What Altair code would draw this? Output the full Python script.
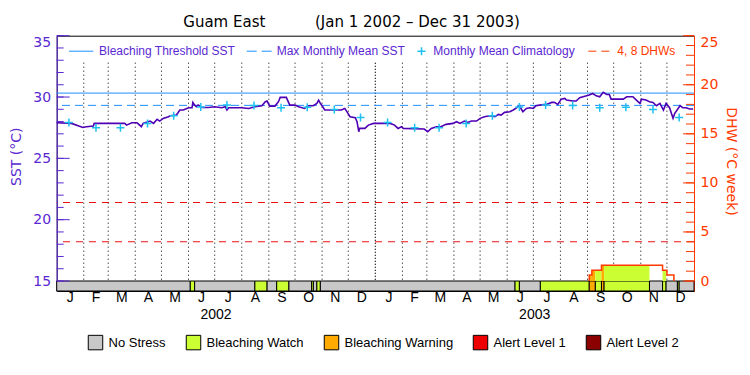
import altair as alt
import pandas as pd

# ---------------- data ----------------
START = pd.Timestamp("2002-01-01")
END = pd.Timestamp("2004-01-01")
TOTAL = float((END - START).days)


def dnum(s):
    return float((pd.Timestamp(s) - START).days)


title_left = "Guam East"
title_right = "(Jan 1 2002 \u2013 Dec 31 2003)"

sst_dates = [
    "2002-01-01", "2002-01-18", "2002-01-31", "2002-02-04", "2002-02-12", "2002-02-13",
    "2002-03-20", "2002-03-22", "2002-03-28", "2002-04-03", "2002-04-08", "2002-04-10",
    "2002-04-18", "2002-04-22", "2002-04-26", "2002-04-29", "2002-05-03", "2002-05-09",
    "2002-05-11", "2002-05-18", "2002-05-20", "2002-05-22", "2002-05-26", "2002-06-01",
    "2002-06-05", "2002-06-06", "2002-06-08", "2002-06-10", "2002-06-12", "2002-06-16",
    "2002-06-24", "2002-07-01", "2002-07-09", "2002-07-13", "2002-07-15", "2002-07-17",
    "2002-08-01", "2002-08-09", "2002-08-16", "2002-08-24", "2002-08-28", "2002-08-30",
    "2002-09-02", "2002-09-08", "2002-09-12", "2002-09-14", "2002-09-21", "2002-09-25",
    "2002-10-01", "2002-10-05", "2002-10-12", "2002-10-16", "2002-10-22", "2002-10-26",
    "2002-10-28", "2002-10-30", "2002-11-01", "2002-11-04", "2002-11-23", "2002-11-27",
    "2002-11-29", "2002-12-03", "2002-12-09", "2002-12-11", "2002-12-13", "2002-12-14",
    "2002-12-20", "2002-12-24", "2002-12-30",
    "2003-01-18", "2003-01-23", "2003-01-27", "2003-01-31", "2003-02-02", "2003-02-26",
    "2003-03-02", "2003-03-06", "2003-03-12", "2003-03-17", "2003-03-23", "2003-03-31",
    "2003-04-04", "2003-04-08", "2003-04-13", "2003-04-17", "2003-04-21", "2003-04-27",
    "2003-05-01", "2003-05-06", "2003-05-12", "2003-05-18", "2003-05-22", "2003-05-25",
    "2003-05-29", "2003-06-04", "2003-06-08", "2003-06-12", "2003-06-15", "2003-06-19",
    "2003-06-23", "2003-06-27", "2003-07-01", "2003-07-04", "2003-07-08", "2003-07-16",
    "2003-07-22", "2003-07-25", "2003-07-29", "2003-08-02", "2003-08-06", "2003-08-08",
    "2003-08-15", "2003-08-19", "2003-08-23", "2003-08-31", "2003-09-03", "2003-09-07",
    "2003-09-11", "2003-09-15", "2003-09-19", "2003-09-23", "2003-09-26", "2003-09-28",
    "2003-10-12", "2003-10-16", "2003-10-23", "2003-10-27", "2003-10-31", "2003-11-02",
    "2003-11-07", "2003-11-11", "2003-11-15", "2003-11-19", "2003-11-23", "2003-11-27",
    "2003-11-30", "2003-12-04", "2003-12-08", "2003-12-10", "2003-12-16", "2003-12-19",
    "2003-12-23", "2003-12-27", "2003-12-31",
]
sst_values = [
    27.90, 27.85, 27.52, 27.58, 27.63, 27.85,
    27.85, 27.71, 27.90, 27.90, 27.58, 27.85,
    28.04, 27.85, 28.18, 28.04, 28.26, 28.39,
    28.47, 28.53, 28.72, 28.94, 28.94, 29.13,
    29.13, 29.56, 29.34, 29.21, 29.34, 29.15,
    29.15, 29.21, 29.13, 29.21, 28.94, 29.13,
    29.13, 29.07, 29.21, 29.29, 29.62, 29.67,
    29.26, 29.26, 29.62, 29.97, 29.97, 29.34,
    29.34, 29.21, 29.07, 29.29, 29.29, 29.48,
    29.75, 29.48, 29.29, 28.94, 28.94, 29.07,
    28.85, 28.39, 28.31, 27.99, 27.17, 27.44,
    27.44, 27.71, 27.85,
    27.85, 27.71, 27.44, 27.58, 27.44, 27.39,
    27.17, 27.44, 27.58, 27.58, 27.77, 27.85,
    27.99, 27.85, 28.04, 27.93, 28.04, 28.04,
    28.26, 28.39, 28.47, 28.39, 28.58, 28.53,
    28.75, 28.80, 28.94, 29.13, 29.29, 28.80,
    29.07, 29.13, 29.07, 29.29, 29.34, 29.40,
    29.56, 29.56, 29.40, 29.83, 29.89, 29.75,
    29.67, 29.67, 29.94, 30.10, 30.16, 30.29,
    30.10, 30.02, 30.38, 30.21, 30.21, 29.83,
    29.83, 30.02, 30.02, 29.75, 29.48, 29.83,
    29.75, 29.62, 29.56, 29.29, 29.48, 28.94,
    29.48, 29.13, 28.26, 28.67, 29.29, 29.13,
    29.13, 29.02, 29.02,
]

clim_years = ["2002", "2003"]
clim_months = ["01", "02", "03", "04", "05", "06", "07", "08", "09", "10", "11", "12"]
clim_values = [27.93, 27.50, 27.50, 27.85, 28.47, 29.18, 29.34, 29.30, 29.13, 29.17, 28.98, 28.33]

MMM = 29.32
THRESHOLD = 30.32
DHW_REFS = [4, 8]

dhw_dates = ["2003-09-03", "2003-09-03", "2003-09-06", "2003-09-17", "2003-11-26", "2003-12-01", "2003-12-09"]
dhw_values = [0.0, 0.6, 1.1, 1.6, 1.1, 0.6, 0.0]

LEVELS = ["No Stress", "Bleaching Watch", "Bleaching Warning", "Alert Level 1", "Alert Level 2"]
LEVEL_COLORS = ["#C8C8C8", "#CCFF33", "#FFAA00", "#EE0000", "#8B0000"]

stress_start = ["2002-06-03", "2002-08-16", "2002-09-10", "2002-10-20", "2002-10-26",
                "2003-06-10", "2003-07-09", "2003-09-03", "2003-09-10", "2003-09-17",
                "2003-09-20", "2003-11-26", "2003-12-13"]
stress_end = ["2002-06-08", "2002-08-30", "2002-09-24", "2002-10-22", "2002-10-30",
              "2003-06-15", "2003-09-03", "2003-09-10", "2003-09-17", "2003-09-20",
              "2003-11-11", "2003-11-30", "2003-12-15"]
stress_level = ["Bleaching Watch", "Bleaching Watch", "Bleaching Watch", "Bleaching Watch", "Bleaching Watch",
                "Bleaching Watch", "Bleaching Watch", "Bleaching Warning", "Bleaching Watch", "Bleaching Warning",
                "Bleaching Watch", "Bleaching Watch", "Bleaching Watch"]

month_letters = ["J", "F", "M", "A", "M", "J", "J", "A", "S", "O", "N", "D"]
year_labels = ["2002", "2003"]

# ---------------- styles / layout ----------------
PURPLE = "#5A28D2"
LINE_PURPLE = "#5000B4"
ORANGE_RED = "#FF3A00"
BLUE = "#1E90FF"
CYAN = "#1EC0F0"
RED = "#EE1111"
FONT = "DejaVu Sans"
LFONT = "Liberation Sans"

W, H = 637.3, 255.3
BAR_PX = 10.0
SST_PX = (H - BAR_PX) / 20.0
DHW_PX = (H - BAR_PX) / 25.0
SST_MIN = 15 - BAR_PX / SST_PX
DHW_MIN = 0 - BAR_PX / DHW_PX
GRID_TOP = 32.8
PLUS = "M -1 0 L 1 0 M 0 -1 L 0 1"

# ---------------- frames ----------------
sst_df = pd.DataFrame({"day": [dnum(d) for d in sst_dates], "sst": sst_values})
clim_df = pd.DataFrame({
    "day": [dnum(f"{y}-{m}-15") for y in clim_years for m in clim_months],
    "sst": clim_values * len(clim_years),
})

events = sorted(zip([dnum(d) for d in stress_start], [dnum(d) for d in stress_end], stress_level))
bar_rows = []
cur = 0.0
for s0, s1, lv in events:
    if s0 > cur:
        bar_rows.append({"start": cur, "end": s0, "level": "No Stress"})
    bar_rows.append({"start": s0, "end": s1, "level": lv})
    cur = s1
if cur < TOTAL:
    bar_rows.append({"start": cur, "end": TOTAL, "level": "No Stress"})
bar_df = pd.DataFrame(bar_rows)
bar_df["top"] = 15.0
bar_df["bottom"] = SST_MIN

dhw_days = [dnum(d) for d in dhw_dates]
dhw_df = pd.DataFrame({"day": dhw_days, "dhw": dhw_values, "i": list(range(len(dhw_days)))})
steps = [(dhw_days[i], dhw_days[i + 1], dhw_values[i]) for i in range(len(dhw_days) - 1)
         if dhw_days[i + 1] > dhw_days[i] and dhw_values[i] > 0]
fill_rows = []
for s0, s1, lv in events:
    for a, b, v in steps:
        lo, hi = max(s0, a), min(s1, b)
        if hi > lo:
            fill_rows.append({"start": lo, "end": hi, "zero": 0.0, "dhw": v, "level": lv})
fill_df = pd.DataFrame(fill_rows)

month_starts = pd.date_range(START, END, freq="MS")
grid_rows = []
for ms in month_starts[1:-1]:
    grid_rows.append({"day": dnum(ms), "top": GRID_TOP, "bottom": 15.0,
                      "kind": "year" if ms.month == 1 else "month"})
grid_df = pd.DataFrame(grid_rows)

mlab_rows = []
for i in range(len(month_starts) - 1):
    a, b = dnum(month_starts[i]), dnum(month_starts[i + 1])
    mlab_rows.append({"mid": (a + b) / 2, "lab": month_letters[month_starts[i].month - 1]})
mlab_df = pd.DataFrame(mlab_rows)
ylab_df = pd.DataFrame({"mid": [(dnum(f"{y}-01-01") + dnum(f"{int(y)+1}-01-01")) / 2 for y in year_labels],
                        "lab": year_labels})

one = pd.DataFrame({"k": [0]})

# ---------------- scales / axes ----------------
xs = alt.Scale(domain=[0, TOTAL], nice=False, zero=False)
sst_scale = alt.Scale(domain=[SST_MIN, 35], nice=False, zero=False)
dhw_scale = alt.Scale(domain=[DHW_MIN, 25], nice=False, zero=False)
color_scale = alt.Scale(domain=LEVELS, range=LEVEL_COLORS)

sst_axis = alt.Axis(values=[15, 20, 25, 30, 35], ticks=False, grid=False, domainColor=PURPLE,
                    labelColor=PURPLE, labelFont=FONT, labelFontSize=14, labelPadding=6,
                    labelFlush=True, title=None, orient="left")
dhw_axis = alt.Axis(values=[0, 5, 10, 15, 20, 25], ticks=False, grid=False, domainColor=ORANGE_RED,
                    labelColor=ORANGE_RED, labelFont=FONT, labelFontSize=14, labelPadding=6,
                    labelFlush=True, title=None, orient="right")


def X(f):
    return alt.X(f, scale=xs, axis=None)


def YS(f):
    return alt.Y(f, scale=sst_scale, axis=sst_axis)


def YD(f):
    return alt.Y(f, scale=dhw_scale, axis=dhw_axis)


# ---------------- SST group ----------------
grid_month = alt.Chart(grid_df).transform_filter("datum.kind == 'month'").mark_rule(
    color="black", strokeWidth=1, strokeDash=[1, 3]).encode(x=X("day:Q"), y=YS("top:Q"), y2="bottom:Q")
grid_year = alt.Chart(grid_df).transform_filter("datum.kind == 'year'").mark_rule(
    color="black", strokeWidth=1.3, strokeDash=[1, 2]).encode(x=X("day:Q"), y=YS("top:Q"), y2="bottom:Q")

thr_rule = alt.Chart(pd.DataFrame({"v": [THRESHOLD]})).mark_rule(color=BLUE, strokeWidth=1).encode(y=YS("v:Q"))
mmm_rule = alt.Chart(pd.DataFrame({"v": [MMM]})).mark_rule(color=BLUE, strokeWidth=1, strokeDash=[8, 5]).encode(y=YS("v:Q"))

bar = alt.Chart(bar_df).mark_rect(stroke="black", strokeWidth=1).encode(
    x=X("start:Q"), x2="end:Q", y=YS("top:Q"), y2="bottom:Q",
    color=alt.Color("level:N", scale=color_scale, legend=alt.Legend(
        orient="none", legendX=30.8, legendY=298.5, direction="horizontal", title=None,
        symbolType="square", symbolSize=210, symbolStrokeColor="black", symbolStrokeWidth=1,
        symbolOpacity=1, labelFont=LFONT, labelFontSize=13, labelColor="black",
        labelOffset=5, columnPadding=17, padding=0)))

sst_line = alt.Chart(sst_df).mark_line(color=LINE_PURPLE, strokeWidth=1.6).encode(x=X("day:Q"), y=YS("sst:Q"))
clim_pts = alt.Chart(clim_df).mark_point(shape=PLUS, size=64, color=CYAN, strokeWidth=1.5,
                                         filled=False, opacity=1).encode(x=X("day:Q"), y=YS("sst:Q"))

ticks_minor = alt.Chart(pd.DataFrame({"v": list(range(15, 36))})).mark_rule(color=PURPLE).encode(
    y=YS("v:Q"), x=alt.value(0), x2=alt.value(7))
ticks_major = alt.Chart(pd.DataFrame({"v": [15, 20, 25, 30, 35]})).mark_rule(color=PURPLE).encode(
    y=YS("v:Q"), x=alt.value(0), x2=alt.value(13))

mlabels = alt.Chart(mlab_df).mark_text(font=LFONT, fontSize=14, color="black", baseline="middle").encode(
    x=X("mid:Q"), y=alt.value(262.5), text="lab:N")
ylabels = alt.Chart(ylab_df).mark_text(font=LFONT, fontSize=14, color="black", baseline="middle").encode(
    x=X("mid:Q"), y=alt.value(279.5), text="lab:N")


def txt(s, x, y, color, size=12, font=LFONT, align="left", angle=0):
    return alt.Chart(one).mark_text(text=s, font=font, fontSize=size, color=color, align=align,
                                    baseline="middle", angle=angle).encode(x=alt.value(x), y=alt.value(y))


def seg(x1, x2, y, color, dash=None):
    kw = {"color": color, "strokeWidth": 1}
    if dash:
        kw["strokeDash"] = dash
    return alt.Chart(one).mark_rule(**kw).encode(x=alt.value(x1), x2=alt.value(x2), y=alt.value(y))


legend_top = [
    seg(12.3, 36.6, 15.5, BLUE),
    txt("Bleaching Threshold SST", 42.3, 15, PURPLE),
    seg(190, 215, 15.5, BLUE, [10, 5]),
    txt("Max Monthly Mean SST", 220, 15, PURPLE),
    alt.Chart(one).mark_point(shape=PLUS, size=64, color=CYAN, strokeWidth=1.5, filled=False,
                              opacity=1).encode(x=alt.value(364.8), y=alt.value(15.5)),
    txt("Monthly Mean Climatology", 376.6, 15, PURPLE),
    seg(531.6, 553.3, 15.5, ORANGE_RED, [8, 5]),
    txt("4, 8 DHWs", 560.6, 15, ORANGE_RED),
]

titles = [
    txt(title_left, 126.6, -14, "black", size=15, font=FONT),
    txt(title_right, 258.3, -14, "black", size=15, font=FONT),
    txt("SST (\u00b0C)", -39.5, 121, PURPLE, size=14, font=FONT, align="center", angle=270),
    txt("DHW (\u00b0C week)", 674.5, 125.8, ORANGE_RED, size=14, font=FONT, align="center", angle=90),
]

sst_group = alt.layer(grid_month, grid_year, thr_rule, mmm_rule, bar, sst_line, clim_pts,
                      ticks_minor, ticks_major, mlabels, ylabels, *legend_top, *titles)

# ---------------- DHW group ----------------
dhw_fill = alt.Chart(fill_df).mark_rect(strokeWidth=0).encode(
    x=X("start:Q"), x2="end:Q", y=YD("zero:Q"), y2="dhw:Q",
    color=alt.Color("level:N", scale=color_scale, legend=None))
dhw_line = alt.Chart(dhw_df).mark_line(interpolate="step-after", color=ORANGE_RED, strokeWidth=1.5).encode(
    x=X("day:Q"), y=YD("dhw:Q"), order="i:Q")
dhw_ref = alt.Chart(pd.DataFrame({"v": DHW_REFS})).mark_rule(color=RED, strokeWidth=1, strokeDash=[7, 6]).encode(
    y=YD("v:Q"))
rticks_minor = alt.Chart(pd.DataFrame({"v": list(range(0, 26))})).mark_rule(color=ORANGE_RED).encode(
    y=YD("v:Q"), x=alt.value(W), x2=alt.value(W - 8))
rticks_major = alt.Chart(pd.DataFrame({"v": [0, 5, 10, 15, 20, 25]})).mark_rule(color=ORANGE_RED).encode(
    y=YD("v:Q"), x=alt.value(W), x2=alt.value(W - 11))

dhw_group = alt.layer(dhw_fill, dhw_line, dhw_ref, rticks_minor, rticks_major)

chart = alt.layer(sst_group, dhw_group).resolve_scale(y="independent").properties(
    width=W, height=H,
    autosize=alt.AutoSizeParams(type="none"),
    padding={"left": 48.7, "top": 27.7, "right": 45, "bottom": 70},
    background="white",
).configure_view(stroke="black", strokeWidth=1)

chart.save("out.html", embed_options={"renderer": "svg", "actions": False})
